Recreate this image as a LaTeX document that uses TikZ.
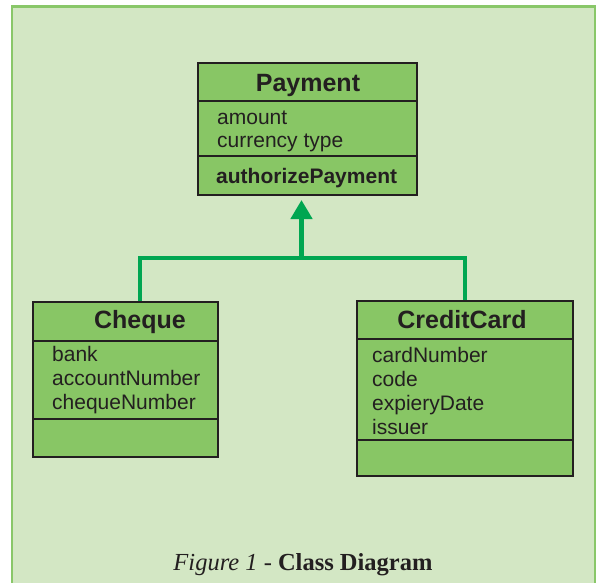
\documentclass[tikz,border=0pt]{standalone}
\usepackage{fontspec}
\setmainfont{Liberation Serif}
\newfontfamily\umlfont{Liberation Sans}
\usetikzlibrary{arrows.meta,calc}
\definecolor{bgc}{RGB}{211,231,196}
\definecolor{framec}{RGB}{137,199,105}
\definecolor{boxc}{RGB}{136,198,101}
\definecolor{linec}{RGB}{35,31,32}
\definecolor{connc}{RGB}{0,166,81}
\begin{document}
\begin{tikzpicture}[x=1pt,y=-1pt,
  classbox/.style={draw=linec, fill=boxc, line width=2.2pt, rectangle, anchor=north west, inner sep=0pt, outer sep=0pt},
  divider/.style={draw=linec, line width=2.2pt},
  ctitle/.style={font=\umlfont\bfseries\fontsize{25}{25}\selectfont, text=linec, anchor=base, inner sep=0pt},
  attr/.style={font=\umlfont\fontsize{21}{21}\selectfont, text=linec, anchor=base west, inner sep=0pt},
  oper/.style={font=\umlfont\bfseries\fontsize{21}{21}\selectfont, text=linec, anchor=base west, inner sep=0pt},
  conn/.style={draw=connc, line width=4.5pt},
]
\useasboundingbox (0,0) rectangle (597,583);
\fill[bgc] (12,6.3) rectangle (595,583);
\draw[framec, line width=2.7pt] (12,583) -- (12,6.3) -- (595,6.3) -- (595,583);

% Payment
\node[classbox, minimum width=219pt, minimum height=132pt] (payment) at (198,63) {};
\draw[divider] (198,101) -- (417,101);
\draw[divider] (198,156) -- (417,156);
\node[ctitle] (ptitle) at (308,92) {Payment};
\node[attr] (pa1) at (217,125) {amount};
\node[attr] (pa2) at (217,148) {currency type};
\node[oper] (po1) at (216,183) {authorizePayment};

% Cheque
\node[classbox, minimum width=185pt, minimum height=155pt] (cheque) at (33,302) {};
\draw[divider] (33,341) -- (218,341);
\draw[divider] (33,419) -- (218,419);
\node[ctitle] (ctitle) at (140,328) {Cheque};
\node[attr] (ca1) at (52,361) {bank};
\node[attr] (ca2) at (52,385) {accountNumber};
\node[attr] (ca3) at (52,409) {chequeNumber};

% CreditCard
\node[classbox, minimum width=216pt, minimum height=175pt] (card) at (357,301) {};
\draw[divider] (357,339) -- (573,339);
\draw[divider] (357,440) -- (573,440);
\node[ctitle] (cctitle) at (462,328) {CreditCard};
\node[attr] (cc1) at (372,362.5) {cardNumber};
\node[attr] (cc2) at (372,386.5) {code};
\node[attr] (cc3) at (372,410) {expieryDate};
\node[attr] (cc4) at (372,434) {issuer};

% Generalization connectors
\coordinate (j) at (301.5,258);
\draw[conn] ($(cheque.north west)+(107,-1.1)$) |- (j) -| ($(card.north west)+(108,-1.1)$);
\draw[conn, -{Triangle[width=21pt,length=19pt]}] (j) -- ($(j |- payment.south)+(0,5)$);

% Caption
\node[anchor=base, font=\fontsize{24.5}{24.5}\selectfont, text=linec, inner sep=0pt] (caption) at (303,570.7) {\textit{Figure 1} - \textbf{Class Diagram}};
\end{tikzpicture}
\end{document}
